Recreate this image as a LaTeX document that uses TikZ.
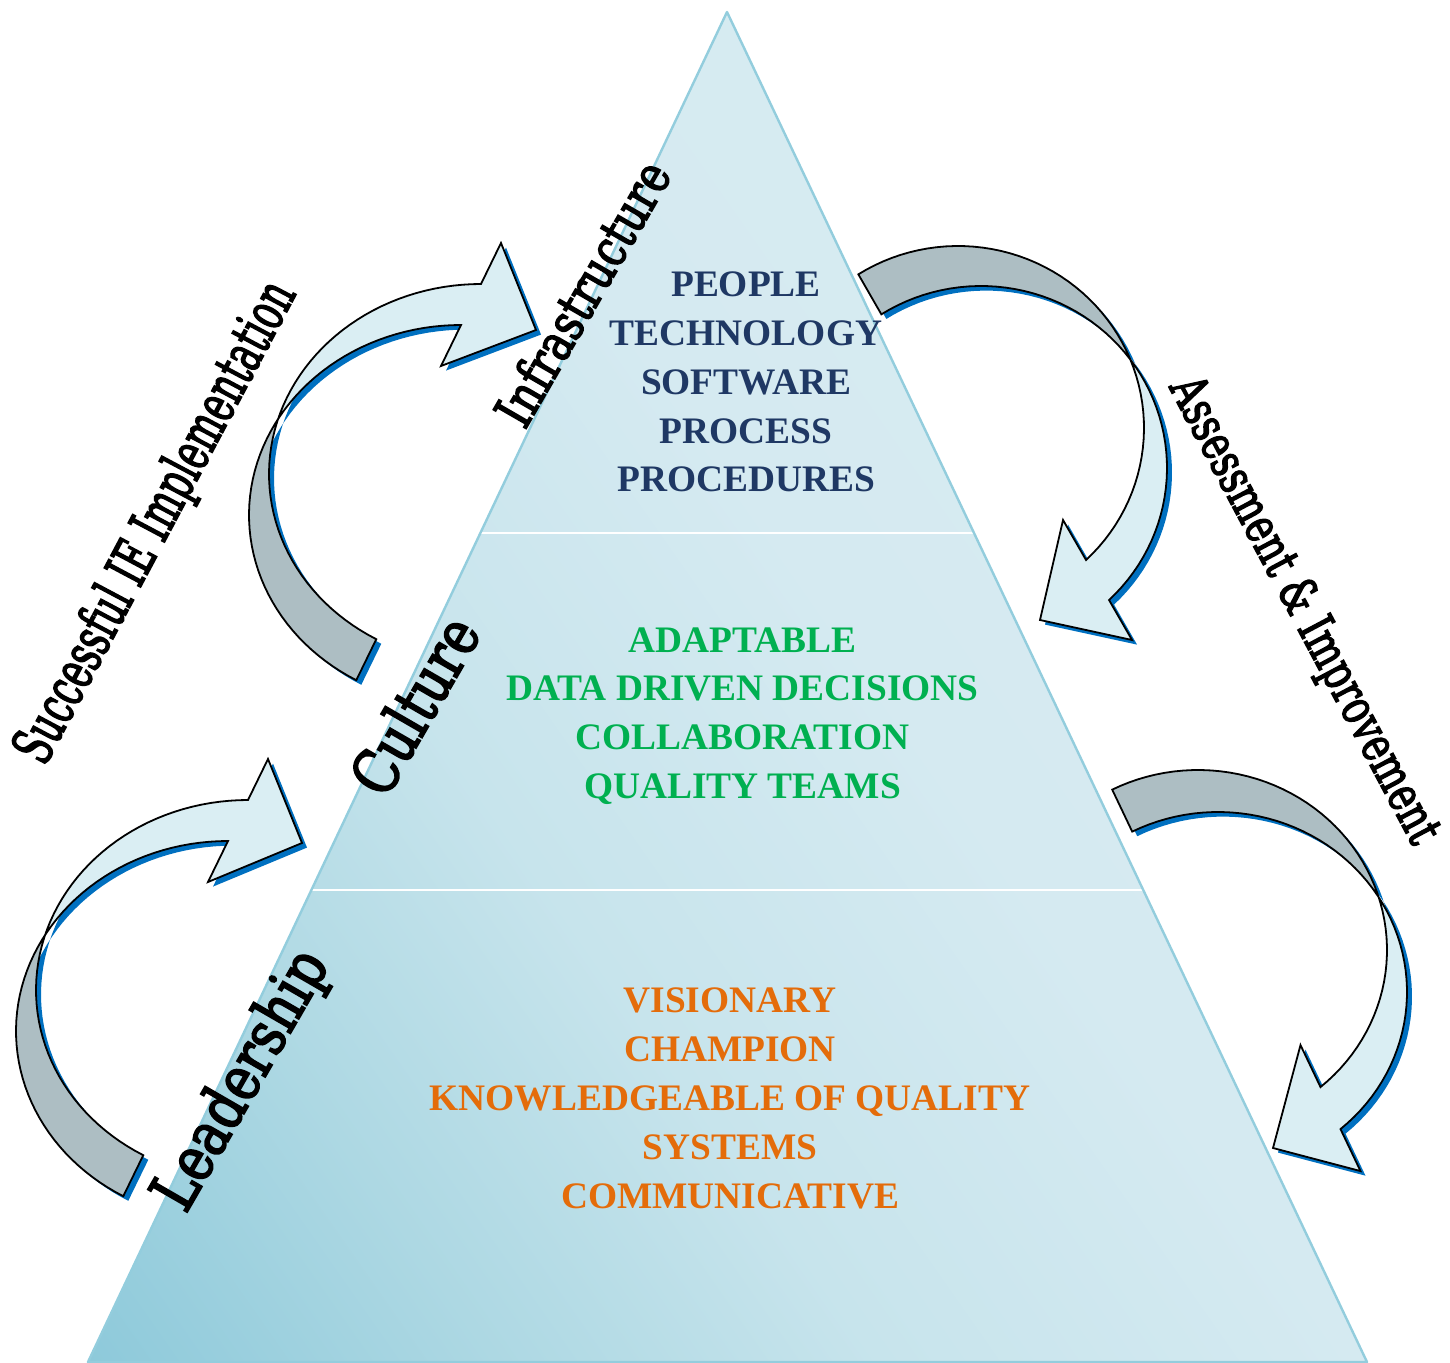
\documentclass[tikz,border=0pt]{standalone}
\usepackage{fontspec}
\setmainfont{Liberation Serif}
\newfontfamily\labelfont{DejaVu Serif}[RawFeature={embolden=3.2}]
\usetikzlibrary{calc}

% palette
\definecolor{pyrA}{HTML}{8DC9DA}
\definecolor{pyrB}{HTML}{ADD8E3}
\definecolor{pyrC}{HTML}{C7E4EC}
\definecolor{pyrD}{HTML}{D5EAF1}
\definecolor{pyrE}{HTML}{DCEEF3}
\definecolor{pyredge}{HTML}{93CDDD}
\definecolor{navytext}{HTML}{1F3864}
\definecolor{greentext}{HTML}{00B050}
\definecolor{orangetext}{HTML}{E46C0A}
\definecolor{ribbonlight}{HTML}{DAEEF3}
\definecolor{ribbongray}{HTML}{ADBEC3}
\definecolor{shadowblue}{HTML}{0070C0}

% diagonal fill of the pyramid, dark at the lower left
\pgfdeclareverticalshading{pyrshade}{100bp}{color(0bp)=(pyrA); color(15bp)=(pyrA);
  color(28bp)=(pyrB); color(40bp)=(pyrC); color(55bp)=(pyrD); color(100bp)=(pyrE)}

% parameters of a curved ribbon arrow: ellipse A (centre, radii), offset of ellipse B,
% parameter angles of tail, crossing (on A and on B) and head, and the arrow tip
\pgfkeys{
  /ribbon/cx/.store in=\rbcx, /ribbon/cy/.store in=\rbcy,
  /ribbon/rx/.store in=\rbrx, /ribbon/ry/.store in=\rbry,
  /ribbon/tx/.store in=\rbtx, /ribbon/ty/.store in=\rbty,
  /ribbon/tail/.store in=\rbtail, /ribbon/crossa/.store in=\rbca,
  /ribbon/crossb/.store in=\rbcb, /ribbon/head/.store in=\rbhead,
  /ribbon/tipx/.store in=\rbtipx, /ribbon/tipy/.store in=\rbtipy}

\newcommand{\ribbonarrow}[2]{%
  \pgfqkeys{/ribbon}{#2}%
  \coordinate (#1-hA) at ({\rbcx+\rbrx*cos(\rbhead)},{\rbcy+\rbry*sin(\rbhead)});
  \coordinate (#1-hB) at ($(#1-hA)+(\rbtx,\rbty)$);
  \coordinate (#1-bA) at ($(#1-hA)-(\rbtx,\rbty)$);
  \coordinate (#1-bB) at ($(#1-hB)+(\rbtx,\rbty)$);
  \coordinate (#1-tip) at (\rbtipx,\rbtipy);
  % drop shadow
  \fill[ribbonshadow]
    plot[ribbonplot, domain=\rbtail:\rbhead] ({\rbcx+\rbrx*cos(\ang)},{\rbcy+\rbry*sin(\ang)})
    -- (#1-bA) -- (#1-tip) -- (#1-bB) -- (#1-hB)
    -- plot[ribbonplot, domain=\rbhead:\rbtail] ({\rbcx+\rbtx+\rbrx*cos(\ang)},{\rbcy+\rbty+\rbry*sin(\ang)})
    -- cycle;
  % underside of the ribbon, from the tail to the twist
  \fill[ribbonback]
    plot[ribbonplot, domain=\rbtail:\rbca] ({\rbcx+\rbrx*cos(\ang)},{\rbcy+\rbry*sin(\ang)})
    -- plot[ribbonplot, domain=\rbcb:\rbtail] ({\rbcx+\rbtx+\rbrx*cos(\ang)},{\rbcy+\rbty+\rbry*sin(\ang)})
    -- cycle;
  % upper face, from the twist to the head
  \fill[ribbonfront]
    plot[ribbonplot, domain=\rbca:\rbhead] ({\rbcx+\rbrx*cos(\ang)},{\rbcy+\rbry*sin(\ang)})
    -- (#1-bA) -- (#1-tip) -- (#1-bB) -- (#1-hB)
    -- plot[ribbonplot, domain=\rbhead:\rbcb] ({\rbcx+\rbtx+\rbrx*cos(\ang)},{\rbcy+\rbty+\rbry*sin(\ang)})
    -- cycle;
  % outline
  \draw[ribbonline]
    plot[ribbonplot, domain=\rbtail:\rbhead] ({\rbcx+\rbrx*cos(\ang)},{\rbcy+\rbry*sin(\ang)})
    -- (#1-bA) -- (#1-tip) -- (#1-bB) -- (#1-hB)
    -- plot[ribbonplot, domain=\rbhead:\rbtail] ({\rbcx+\rbtx+\rbrx*cos(\ang)},{\rbcy+\rbty+\rbry*sin(\ang)})
    -- cycle;
}

\begin{document}
\begin{tikzpicture}[x=0.5pt,y=-0.5pt,
  ribbonplot/.style={variable=\ang, samples=60},
  ribbonshadow/.style={fill=shadowblue, transform canvas={xshift=2.5pt,yshift=-2.3pt}},
  ribbonback/.style={fill=ribbongray},
  ribbonfront/.style={fill=ribbonlight},
  ribbonline/.style={draw=black, line width=0.9pt, line join=miter},
  pyredgeline/.style={draw=pyredge, line width=1.2pt, line join=round},
  divider/.style={draw=white, line width=1pt},
  pyrtext/.style={font=\bfseries\fontsize{18.7pt}{24.5pt}\selectfont, anchor=base, inner sep=0pt},
  toptext/.style={pyrtext, text=navytext},
  midtext/.style={pyrtext, text=greentext},
  lowtext/.style={pyrtext, text=orangetext},
  lbl/.style={inner sep=0pt, font=\labelfont, text=black}]

\useasboundingbox (0,0) rectangle (1450,1363);

% pyramid
\coordinate (apex) at (727,12);
\coordinate (bl) at (88,1362);
\coordinate (br) at (1367,1362);
\shade[shading=pyrshade, shading angle=-55] (apex) -- (bl) -- (br) -- cycle;
\coordinate (d1l) at ($(apex)!0.3859!(bl)$);
\coordinate (d1r) at ($(apex)!0.3859!(br)$);
\coordinate (d2l) at ($(apex)!0.6504!(bl)$);
\coordinate (d2r) at ($(apex)!0.6504!(br)$);
\draw[divider] (d1l) -- (d1r);
\draw[divider] (d2l) -- (d2r);
\draw[pyredgeline] (apex) -- (bl) -- (br) -- cycle;

% tier contents
\foreach \txt [count=\i] in {PEOPLE, TECHNOLOGY, SOFTWARE, PROCESS, PROCEDURES}
  \node[toptext] (top\i) at (746, {297+(\i-1)*48.75}) {\txt};
\foreach \txt [count=\i] in {ADAPTABLE, DATA DRIVEN DECISIONS, COLLABORATION, QUALITY TEAMS}
  \node[midtext] (mid\i) at (742.5, {652+(\i-1)*48.67}) {\txt};
\foreach \txt [count=\i] in {VISIONARY, CHAMPION, KNOWLEDGEABLE OF QUALITY, SYSTEMS, COMMUNICATIVE}
  \node[lowtext] (low\i) at (730, {1012+(\i-1)*49}) {\txt};

% curved arrows
\ribbonarrow{upleft}{cx=461, cy=515, rx=212, ry=190, tx=20, ty=-41,
  tail=119.6, crossa=210.36, crossb=196.84, head=270, tipx=536, tipy=330}
\ribbonarrow{lowleft}{cx=228, cy=1031, rx=212, ry=190, tx=20, ty=-41,
  tail=119.6, crossa=210.36, crossb=196.84, head=270, tipx=302, tipy=843}
\ribbonarrow{upright}{cx=958, cy=428, rx=186, ry=182, tx=23, ty=40,
  tail=237.6, crossa=337.9, crossb=323.4, head=406.5, tipx=1040, tipy=620}
\ribbonarrow{lowright}{cx=1198, cy=950, rx=189, ry=180, tx=20, ty=42,
  tail=243, crossa=342.96, crossb=328.24, head=409.6, tipx=1273, tipy=1148}

% tier names and side captions
\node[lbl, rotate=60] (infra) at (582,293)
  {\scalebox{0.79}[1]{\fontsize{26pt}{30pt}\selectfont Infrastructure}};
\node[lbl, rotate=60] (culture) at (414,705)
  {\scalebox{0.81}[1]{\fontsize{31pt}{36pt}\selectfont Culture}};
\node[lbl, rotate=60] (leader) at (243,1081)
  {\scalebox{0.82}[1]{\fontsize{31pt}{36pt}\selectfont Leadership}};
\node[lbl, rotate=62] (success) at (157,523)
  {\scalebox{0.63}[1]{\fontsize{28pt}{32pt}\selectfont Successful IE Implementation}};
\node[lbl, rotate=-62] (assess) at (1303,611)
  {\scalebox{0.73}[1]{\fontsize{25pt}{30pt}\selectfont Assessment \& Improvement}};

\end{tikzpicture}
\end{document}
